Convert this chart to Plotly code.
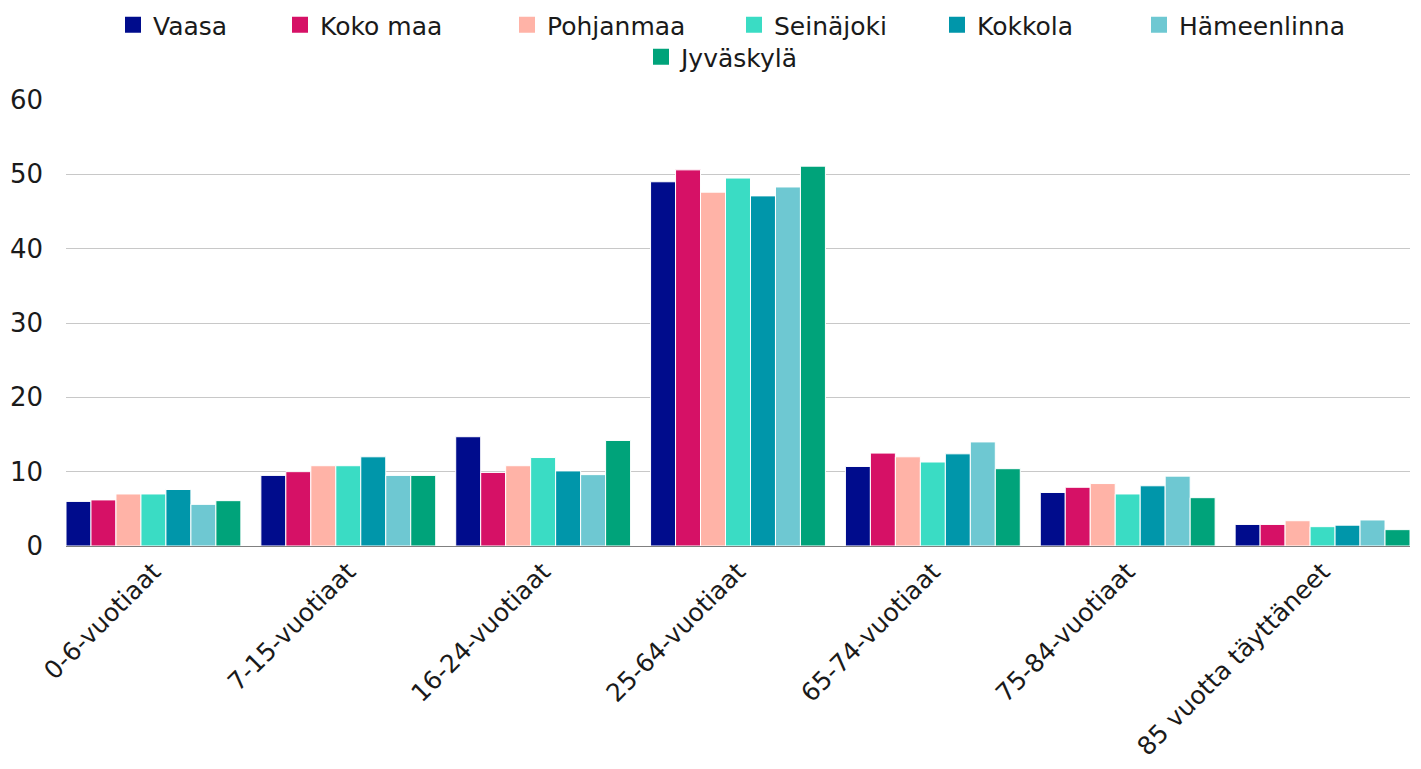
import plotly.graph_objects as go

categories = ["0-6-vuotiaat", "7-15-vuotiaat", "16-24-vuotiaat", "25-64-vuotiaat",
              "65-74-vuotiaat", "75-84-vuotiaat", "85 vuotta täyttäneet"]

vaasa = [6.0, 9.5, 14.7, 49.0, 10.7, 7.2, 2.9]
koko_maa = [6.2, 10.0, 9.9, 50.6, 12.5, 7.9, 2.9]
pohjanmaa = [7.0, 10.8, 10.8, 47.6, 12.0, 8.4, 3.4]
seinajoki = [7.0, 10.8, 11.9, 49.5, 11.3, 7.0, 2.6]
kokkola = [7.6, 12.0, 10.1, 47.1, 12.4, 8.1, 2.8]
hameenlinna = [5.6, 9.5, 9.6, 48.3, 14.0, 9.4, 3.5]
jyvaskyla = [6.1, 9.5, 14.2, 51.1, 10.4, 6.5, 2.2]

series_names = ["Vaasa", "Koko maa", "Pohjanmaa", "Seinäjoki", "Kokkola", "Hämeenlinna", "Jyväskylä"]
series_values = [vaasa, koko_maa, pohjanmaa, seinajoki, kokkola, hameenlinna, jyvaskyla]
colors = ["#000C8C", "#D61166", "#FFB3A7", "#3ADCC4", "#0096AA", "#6EC8D2", "#00A37A"]

# legend layout (marker left edge in px, row centre in px)
legend_marker_left = [125, 292, 519, 746, 949, 1151, 653]
legend_row_y = [25, 25, 25, 25, 25, 25, 57]

FONT = "DejaVu Sans"
W, H = 1421, 769

fig = go.Figure()
for i, (name, vals, col) in enumerate(zip(series_names, series_values, colors)):
    lg = "legend" if i == 0 else f"legend{i + 1}"
    fig.add_trace(go.Bar(
        x=categories, y=vals, name=name, showlegend=False,
        marker=dict(color=col, line=dict(color="white", width=1)),
    ))
    fig.add_trace(go.Scatter(
        x=[None], y=[None], mode="markers", name=name, legend=lg,
        marker=dict(symbol="square", size=16, color=col),
        hoverinfo="skip",
    ))

legends = {}
for i in range(len(series_names)):
    key = "legend" if i == 0 else f"legend{i + 1}"
    legends[key] = dict(
        orientation="h", xref="container", yref="container",
        x=(legend_marker_left[i] - 12) / W, xanchor="left",
        y=1 - legend_row_y[i] / H, yanchor="middle",
        font=dict(size=25, family=FONT, color="#1a1a1a"),
        bgcolor="rgba(0,0,0,0)", borderwidth=0,
    )

bargap = 0.1026
fig.update_layout(
    width=W, height=H,
    barmode="group", bargap=bargap, bargroupgap=0,
    plot_bgcolor="white", paper_bgcolor="white",
    margin=dict(l=66, r=11, t=100, b=223, autoexpand=False),
    font=dict(family=FONT, size=22, color="#1a1a1a"),
    showlegend=True,
    **legends,
)
fig.update_xaxes(
    range=[-0.5 + bargap / 2, len(categories) - 0.5 - bargap / 2],
    tickangle=-45, showgrid=False, showline=True, linecolor="#808080", linewidth=1,
    ticks="", tickfont=dict(size=25, family=FONT, color="#1a1a1a"),
)
fig.update_yaxes(
    range=[0, 60], dtick=10, showgrid=True, gridcolor="#C8C8C8", gridwidth=1,
    zeroline=False, showline=False, ticks="", ticklabelstandoff=22,
    tickfont=dict(size=26, family=FONT, color="#1a1a1a"),
)

fig.write_html("out.html", config={"displayModeBar": False},
               post_script="document.body.style.margin='0';")
